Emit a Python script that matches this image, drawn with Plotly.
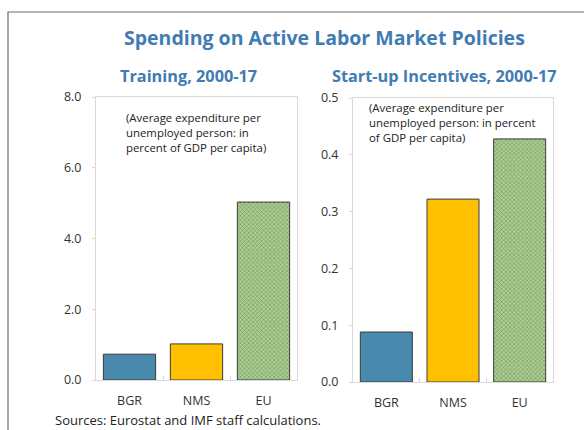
import plotly.graph_objects as go

categories = ["BGR", "NMS", "EU"]
training = [0.73, 1.02, 5.03]
startup = [0.088, 0.322, 0.428]
bar_colors = ["#4A89AE", "#FFC000", "#A9D18E"]
title_text = "Spending on Active Labor Market Policies"
left_title = "Training, 2000-17"
right_title = "Start-up Incentives, 2000-17"
left_note = "(Average expenditure per<br>unemployed person: in<br>percent of GDP per capita)"
right_note = "(Average expenditure per<br>unemployed person: in percent<br>of GDP per capita)"
source_text = "Sources: Eurostat and IMF staff calculations."

W, H = 584, 430
FONT = "Open Sans"
BLUE = "#3F7CB3"

def px(x):
    return x / W

def py(y):
    return 1 - y / H

shapes_pat = ["", "", "x"]

fig = go.Figure()
for vals, xa, ya in [(training, "x", "y"), (startup, "x2", "y2")]:
    fig.add_trace(go.Bar(
        x=categories, y=vals, xaxis=xa, yaxis=ya,
        marker=dict(color=bar_colors, line=dict(color="#3A3A3A", width=1),
                    pattern=dict(shape=shapes_pat, fgcolor="#8CC46A", bgcolor="#EAF5E2",
                                 size=3, solidity=0.34)),
        showlegend=False, hoverinfo="skip"))

axis_common = dict(showline=True, mirror=True, linecolor="#D9D9D9", linewidth=1,
                   showgrid=False, zeroline=False, automargin=False,
                   tickfont=dict(family=FONT, size=12.5, color="#333333"))

fig.update_layout(
    width=W, height=H, margin=dict(l=0, r=0, t=0, b=0, pad=0, autoexpand=False),
    paper_bgcolor="white", plot_bgcolor="white", bargap=0.22,
    xaxis=dict(domain=[px(96), px(297)], anchor="y", ticks="inside", tickson="boundaries",
               ticklen=4, tickcolor="#D9D9D9", ticklabelstandoff=9, **axis_common),
    yaxis=dict(domain=[py(380), py(97)], anchor="x", range=[0, 8], dtick=2, tickformat=".1f",
               ticks="outside", ticklen=3, tickcolor="#D9D9D9", ticklabelstandoff=8, **axis_common),
    xaxis2=dict(domain=[px(353), px(553)], anchor="y2", ticks="inside", tickson="boundaries",
                ticklen=4, tickcolor="#D9D9D9", ticklabelstandoff=9, **axis_common),
    yaxis2=dict(domain=[py(382), py(98)], anchor="x2", range=[0, 0.5], dtick=0.1, tickformat=".1f",
                ticks="outside", ticklen=3, tickcolor="#D9D9D9", ticklabelstandoff=8, **axis_common),
)

fig.add_shape(type="rect", xref="paper", yref="paper", x0=px(8), x1=1.05, y0=-0.05, y1=py(12),
              line=dict(color="#6E6E6E", width=1.2), fillcolor="rgba(0,0,0,0)", layer="below")

anns = [
    dict(text="<b>%s</b>" % title_text, x=px(324), y=py(37), size=19.5, color=BLUE, xanchor="center"),
    dict(text="<b>%s</b>" % left_title, x=px(188), y=py(76), size=16.3, color=BLUE, xanchor="center"),
    dict(text="<b>%s</b>" % right_title, x=px(444), y=py(76), size=16.3, color=BLUE, xanchor="center"),
    dict(text=source_text, x=px(53), y=py(420), size=13, color="#222222", xanchor="left"),
]
for a in anns:
    fig.add_annotation(text=a["text"], x=a["x"], y=a["y"], xref="paper", yref="paper",
                       xanchor=a["xanchor"], yanchor="middle", showarrow=False,
                       font=dict(family=FONT, size=a["size"], color=a["color"]))

for note, x, y in [(left_note, 124, 108), (right_note, 367, 98)]:
    fig.add_annotation(text=note, x=px(x), y=py(y), xref="paper", yref="paper",
                       xanchor="left", yanchor="top", align="left", showarrow=False,
                       font=dict(family=FONT, size=11.4, color="#222222"))

fig.write_html("out.html", post_script="document.body.style.margin='0';",
               config={"displayModeBar": False})
